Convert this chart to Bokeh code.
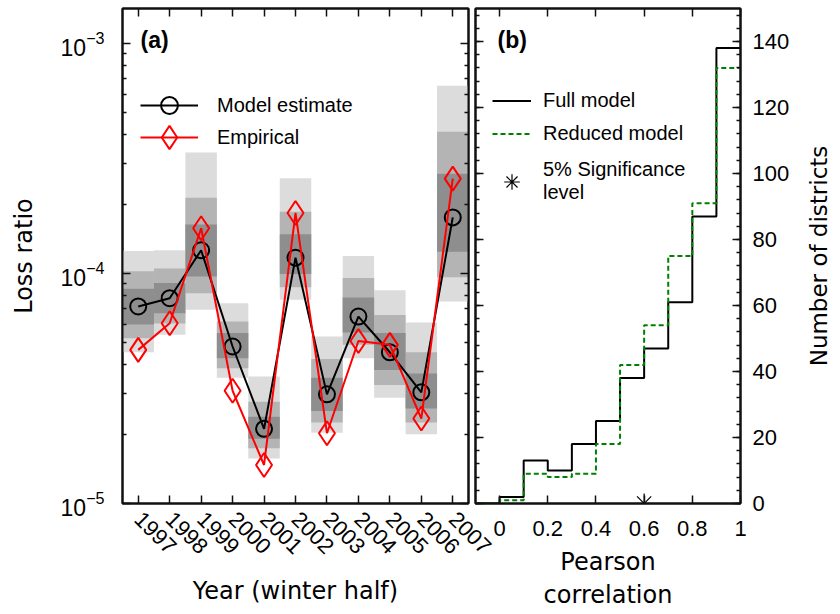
from math import pi
from bokeh.plotting import figure
from bokeh.models import (FixedTicker, LogAxis, LinearAxis, Legend, LegendItem, Label,
                          CustomJSTickFormatter, LogTickFormatter, Range1d, AllLabels)
from bokeh.layouts import row
from bokeh.embed import file_html
from bokeh.resources import INLINE

# ---------------- data: panel (a) ----------------
years = [1997, 1998, 1999, 2000, 2001, 2002, 2003, 2004, 2005, 2006, 2007]
model_estimate = [7.18e-5, 7.80e-5, 1.26e-4, 4.81e-5, 2.11e-5, 1.17e-4, 2.98e-5, 6.49e-5, 4.54e-5, 3.04e-5, 1.75e-4]
empirical = [4.65e-5, 6.07e-5, 1.57e-4, 3.09e-5, 1.47e-5, 1.83e-4, 2.02e-5, 5.08e-5, 4.89e-5, 2.34e-5, 2.58e-4]
outer_top = [1.25e-4, 1.26e-4, 3.35e-4, 7.41e-5, 3.56e-5, 2.59e-4, 5.31e-5, 1.19e-4, 8.44e-5, 6.11e-5, 6.54e-4]
outer_bot = [4.54e-5, 5.41e-5, 6.95e-5, 3.52e-5, 1.57e-5, 7.67e-5, 2.03e-5, 4.28e-5, 2.88e-5, 2.00e-5, 7.55e-5]
middle_top = [1.02e-4, 1.05e-4, 2.13e-4, 6.18e-5, 2.77e-5, 1.85e-4, 4.25e-5, 9.54e-5, 6.60e-5, 4.54e-5, 4.12e-4]
middle_bot = [5.22e-5, 6.05e-5, 8.20e-5, 3.87e-5, 1.74e-5, 8.71e-5, 2.25e-5, 4.89e-5, 3.27e-5, 2.25e-5, 9.62e-5]
inner_top = [8.57e-5, 9.08e-5, 1.63e-4, 5.50e-5, 2.38e-5, 1.48e-4, 3.52e-5, 7.86e-5, 5.50e-5, 3.67e-5, 2.71e-4]
inner_bot = [6.00e-5, 6.71e-5, 9.70e-5, 4.28e-5, 1.91e-5, 9.93e-5, 2.52e-5, 5.54e-5, 3.80e-5, 2.59e-5, 1.24e-4]
log_major_ticks = [1e-5, 1e-4, 1e-3]

# ---------------- data: panel (b) ----------------
bin_edges = [-0.1, 0.0, 0.1, 0.2, 0.3, 0.4, 0.5, 0.6, 0.7, 0.8, 0.9, 1.0]
full_model = [0, 2, 13, 10, 18, 25, 38, 47, 61, 87, 138]
reduced_model = [0, 1, 9, 8, 9, 18, 42, 54, 75, 91, 132]
significance_level = [0.6]
corr_ticks = [0, 0.2, 0.4, 0.6, 0.8, 1]
count_ticks = [0, 20, 40, 60, 80, 100, 120, 140]

TICK_FONT = "Liberation Sans"
LABEL_FONT = "DejaVu Sans"
EMPTY = CustomJSTickFormatter(code="return '';")

# ================= panel (a) =================
p1 = figure(width=500, height=614, y_axis_type="log",
            x_range=Range1d(1996.5, 2007.5), y_range=Range1d(1e-5, 1.415e-3),
            output_backend="svg", toolbar_location=None,
            min_border_left=122, min_border_right=32, min_border_top=8, min_border_bottom=111)
p1.grid.visible = False
p1.outline_line_color = "#111111"
p1.outline_line_width = 2
p1.background_fill_color = "white"
p1.border_fill_alpha = 0

p1.vbar(x=years, width=1, top=outer_top, bottom=outer_bot, fill_color="#dcdcdc", line_color=None)
p1.vbar(x=years, width=1, top=middle_top, bottom=middle_bot, fill_color="#b4b4b4", line_color=None)
p1.vbar(x=years, width=1, top=inner_top, bottom=inner_bot, fill_color="#8e8e8e", line_color=None)

l_mod = p1.line(years, model_estimate, line_color="black", line_width=2)
s_mod = p1.scatter(years, model_estimate, marker="circle", size=16, fill_color=None,
                   line_color="black", line_width=2)
l_emp = p1.line(years, empirical, line_color="red", line_width=2)
s_emp = p1.scatter(years, empirical, marker="diamond", size=24, fill_color=None,
                   line_color="red", line_width=2)

minor_log = [m * 10.0 ** k for k in (-5, -4, -3) for m in range(2, 10)]
ylog_ticker = FixedTicker(ticks=log_major_ticks, minor_ticks=minor_log)
year_ticker = FixedTicker(ticks=years)


def style_axis(ax, show_labels=True, font_size="22px"):
    ax.axis_line_color = "#111111"
    ax.axis_line_width = 2
    ax.major_tick_in = 8
    ax.major_tick_out = 0
    ax.minor_tick_in = 4
    ax.minor_tick_out = 0
    ax.major_tick_line_color = "#111111"
    ax.minor_tick_line_color = "#111111"
    ax.major_tick_line_width = 1.5
    ax.minor_tick_line_width = 1.5
    ax.major_label_text_font = TICK_FONT
    ax.major_label_text_color = "black"
    ax.major_label_policy = AllLabels()
    ax.axis_label_text_font = LABEL_FONT
    ax.axis_label_text_font_style = "normal"
    ax.axis_label_text_font_size = "24px"
    ax.axis_label_text_color = "black"
    if show_labels:
        ax.major_label_text_font_size = font_size
    else:
        ax.formatter = EMPTY
        ax.major_label_text_font_size = "1px"
        ax.major_label_standoff = 0


def one_item_legend(fig, label, renderers, x, y, gw, gh, standoff):
    leg = Legend(items=[LegendItem(label=label, renderers=renderers)],
                 location=(x, y), glyph_width=gw, glyph_height=gh, label_standoff=standoff,
                 spacing=0, padding=0, margin=0, background_fill_alpha=0, border_line_alpha=0,
                 label_text_font=TICK_FONT, label_text_font_size="20px",
                 label_text_color="black")
    fig.add_layout(leg)


ya = p1.yaxis[0]
ya.ticker = ylog_ticker
ya.formatter = LogTickFormatter()
style_axis(ya, font_size="23px")
ya.major_label_standoff = 18
ya.axis_label = "Loss ratio"
ya.axis_label_standoff = 20

xa = p1.xaxis[0]
xa.ticker = year_ticker
style_axis(xa, font_size="22px")
xa.major_label_orientation = -pi / 4
xa.major_label_standoff = 12
xa.axis_label = "Year (winter half)"
xa.axis_label_standoff = 13

ya_r = LogAxis(ticker=ylog_ticker)
style_axis(ya_r, show_labels=False)
p1.add_layout(ya_r, "right")
xa_t = LinearAxis(ticker=year_ticker)
style_axis(xa_t, show_labels=False)
p1.add_layout(xa_t, "above")

one_item_legend(p1, "Model estimate", [l_mod, s_mod], 18, 377, 58, 42, 19)
one_item_legend(p1, "Empirical", [l_emp, s_emp], 18, 336, 58, 60, 19)
p1.add_layout(Label(x=18, y=464, x_units="screen", y_units="screen", text="(a)",
                    text_font=TICK_FONT, text_font_style="bold", text_font_size="23px",
                    text_baseline="middle", text_color="black"))

# ================= panel (b) =================
p2 = figure(width=325, height=614, x_range=Range1d(-0.1, 1.0), y_range=Range1d(0, 150),
            y_axis_location="right", output_backend="svg", toolbar_location=None,
            min_border_left=5, min_border_right=55, min_border_top=8, min_border_bottom=111)
p2.margin = (0, 0, 0, -30)
p2.grid.visible = False
p2.outline_line_color = "#111111"
p2.outline_line_width = 2
p2.background_fill_color = "white"
p2.border_fill_alpha = 0

full_y = full_model + [full_model[-1]]
red_y = reduced_model + [reduced_model[-1]]
st_full = p2.step(bin_edges, full_y, mode="after", line_color="black", line_width=2)
st_red = p2.step(bin_edges, red_y, mode="after", line_color="#008000", line_width=2,
                 line_dash="5 3")
ast = p2.scatter(significance_level, [0], marker="asterisk", size=20, line_color="black",
                 line_width=1.2)

corr_ticker = FixedTicker(ticks=corr_ticks)
count_ticker = FixedTicker(ticks=count_ticks, minor_ticks=list(range(0, 151, 4)))

xb = p2.xaxis[0]
xb.ticker = corr_ticker
xb.formatter = CustomJSTickFormatter(code="return String(Math.round(tick*10)/10);")
style_axis(xb)
xb.major_label_standoff = 17
xb.axis_label = "Pearson\ncorrelation"
xb.axis_label_standoff = 9

yb = p2.yaxis[0]
yb.ticker = count_ticker
style_axis(yb)
yb.major_label_standoff = 12

yb_l = LinearAxis(ticker=count_ticker)
style_axis(yb_l, show_labels=False)
p2.add_layout(yb_l, "left")
xb_t = LinearAxis(ticker=corr_ticker)
style_axis(xb_t, show_labels=False)
p2.add_layout(xb_t, "above")

one_item_legend(p2, "Full model", [st_full], 17, 386, 39, 33, 12)
one_item_legend(p2, "Reduced model", [st_red], 17, 353, 39, 33, 12)
one_item_legend(p2, "5% Significance\nlevel", [ast], 17, 299, 39, 45, 12)
p2.add_layout(Label(x=22, y=464, x_units="screen", y_units="screen", text="(b)",
                    text_font=TICK_FONT, text_font_style="bold", text_font_size="23px",
                    text_baseline="middle", text_color="black"))

# ====== strip holding the right-hand axis title (reads bottom to top) ======
p3 = figure(width=45, height=614, x_range=Range1d(0, 1), y_range=Range1d(0, 1),
            output_backend="svg", toolbar_location=None,
            min_border_left=44, min_border_right=0, min_border_top=8, min_border_bottom=111)
p3.xaxis.visible = False
p3.grid.visible = False
p3.outline_line_color = None
p3.background_fill_alpha = 0
p3.border_fill_alpha = 0
ay3 = p3.yaxis[0]
ay3.formatter = EMPTY
ay3.major_label_text_font_size = "1px"
ay3.major_label_standoff = 0
ay3.axis_line_color = None
ay3.major_tick_line_color = None
ay3.minor_tick_line_color = None
ay3.axis_label = "Number of districts"
ay3.axis_label_text_font = LABEL_FONT
ay3.axis_label_text_font_style = "normal"
ay3.axis_label_text_font_size = "23px"
ay3.axis_label_text_color = "black"
ay3.axis_label_standoff = 2

layout = row(p1, p2, p3)
open("out.html", "w").write(file_html(layout, INLINE))
